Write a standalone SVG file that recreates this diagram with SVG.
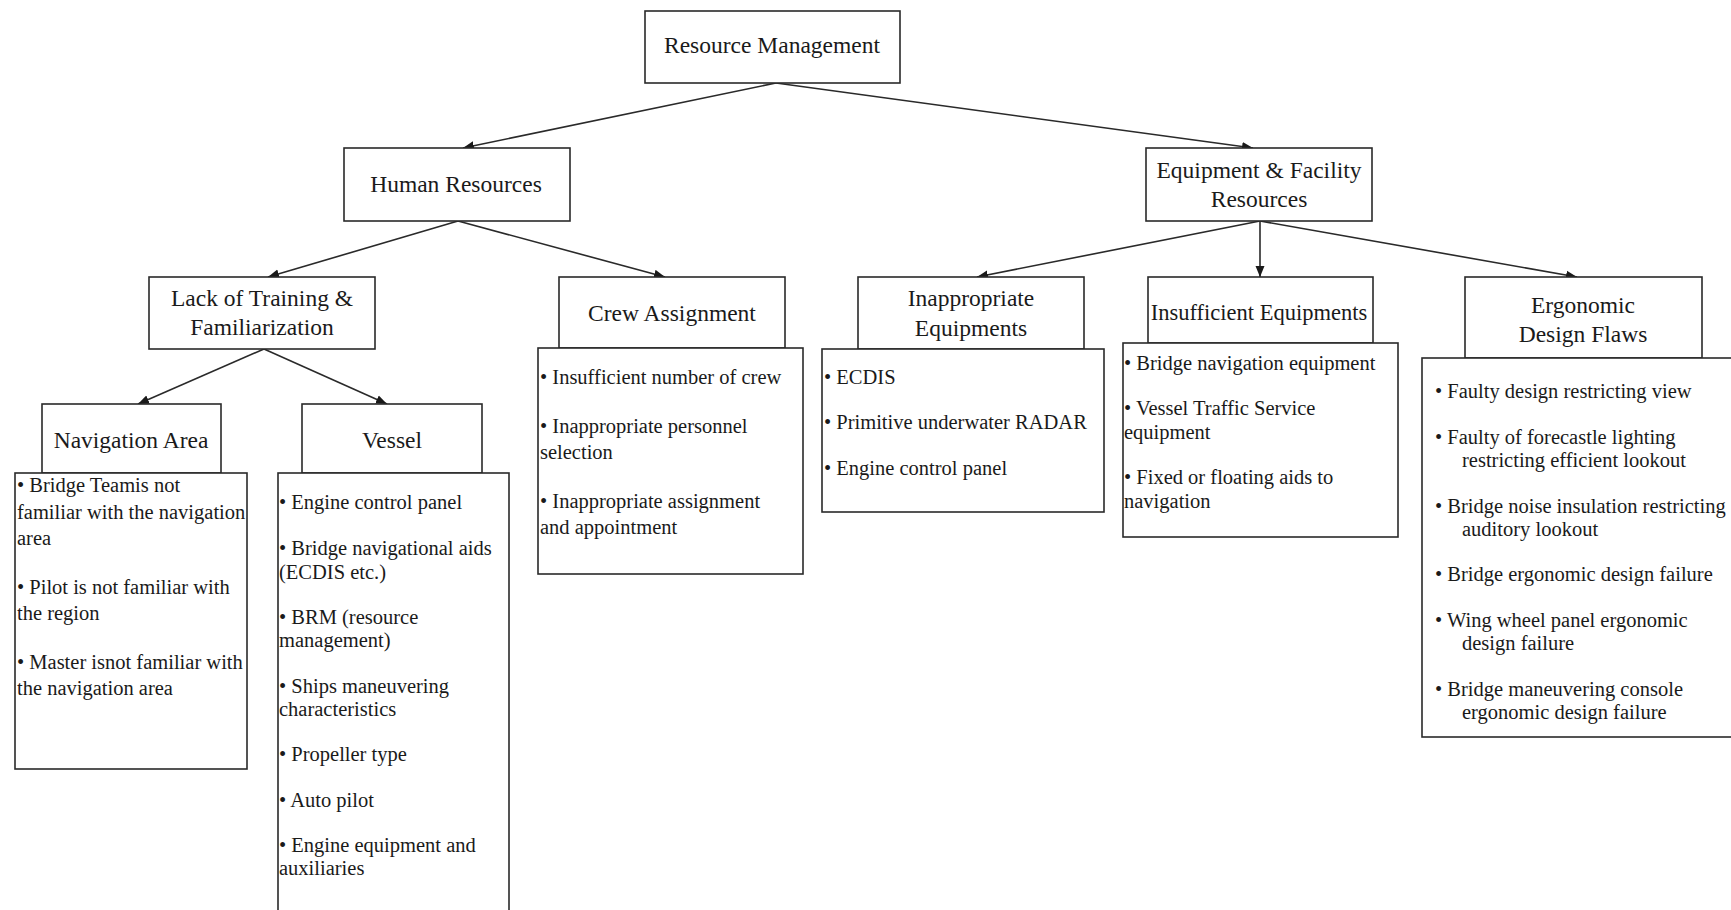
<svg xmlns="http://www.w3.org/2000/svg" width="1731" height="910" viewBox="0 0 1731 910">
<style>
.box{fill:#fff;stroke:#2a2a2a;stroke-width:1.6}
.h{font-family:"Liberation Serif","Times New Roman",serif;font-size:23.5px;fill:#1a1a1a;text-anchor:middle}
.t{font-family:"Liberation Serif","Times New Roman",serif;font-size:20.5px;fill:#1a1a1a}
.c{stroke:#2a2a2a;stroke-width:1.6;fill:none;marker-end:url(#ah)}
</style>
<defs>
<marker id="ah" markerUnits="userSpaceOnUse" markerWidth="12" markerHeight="10" refX="11" refY="5" orient="auto">
<path d="M0,0.5 L11,5 L0,9.5 z" fill="#1a1a1a"/>
</marker>
</defs>
<rect width="1731" height="910" fill="#fff"/>
<g id="connectors">
<line class="c" x1="776" y1="83" x2="463" y2="148"/>
<line class="c" x1="776" y1="83" x2="1253" y2="148"/>
<line class="c" x1="458" y1="221" x2="268" y2="277"/>
<line class="c" x1="458" y1="221" x2="665" y2="277"/>
<line class="c" x1="264" y1="349" x2="138" y2="404"/>
<line class="c" x1="264" y1="349" x2="387" y2="404"/>
<line class="c" x1="1260" y1="221" x2="977" y2="277"/>
<line class="c" x1="1260" y1="221" x2="1260" y2="277"/>
<line class="c" x1="1260" y1="221" x2="1577" y2="277"/>
</g>
<g id="resource-management">
<rect class="box" x="645" y="11" width="255" height="72"/>
<text class="h" x="772" y="53">Resource Management</text>
</g>
<g id="human-resources">
<rect class="box" x="344" y="148" width="226" height="73"/>
<text class="h" x="456" y="192">Human Resources</text>
</g>
<g id="equipment-facility">
<rect class="box" x="1146" y="148" width="226" height="73"/>
<text class="h" x="1259" y="178">Equipment &amp; Facility</text>
<text class="h" x="1259" y="207">Resources</text>
</g>
<g id="lack-of-training">
<rect class="box" x="149" y="277" width="226" height="72"/>
<text class="h" x="262" y="306">Lack of Training &amp;</text>
<text class="h" x="262" y="335">Familiarization</text>
</g>
<g id="crew-assignment">
<rect class="box" x="559" y="277" width="226" height="71"/>
<text class="h" x="672" y="321">Crew Assignment</text>
<rect class="box" x="538" y="348" width="265" height="226"/>
<text class="t" x="540" y="384">• Insufficient number of crew</text>
<text class="t" x="540" y="433">• Inappropriate personnel</text>
<text class="t" x="540" y="459">selection</text>
<text class="t" x="540" y="508">• Inappropriate assignment</text>
<text class="t" x="540" y="534">and appointment</text>
</g>
<g id="inappropriate-equipments">
<rect class="box" x="858" y="277" width="226" height="72"/>
<text class="h" x="971" y="306">Inappropriate</text>
<text class="h" x="971" y="336">Equipments</text>
<rect class="box" x="822" y="349" width="282" height="163"/>
<text class="t" x="824" y="384">• ECDIS</text>
<text class="t" x="824" y="429">• Primitive underwater RADAR</text>
<text class="t" x="824" y="475">• Engine control panel</text>
</g>
<g id="insufficient-equipments">
<rect class="box" x="1148" y="277" width="225" height="66"/>
<text class="h" x="1259" y="320" style="font-size:22.5px">Insufficient Equipments</text>
<rect class="box" x="1123" y="343" width="275" height="194"/>
<text class="t" x="1124" y="370">• Bridge navigation equipment</text>
<text class="t" x="1124" y="415">• Vessel Traffic Service</text>
<text class="t" x="1124" y="439">equipment</text>
<text class="t" x="1124" y="484">• Fixed or floating aids to</text>
<text class="t" x="1124" y="508">navigation</text>
</g>
<g id="ergonomic-design-flaws">
<rect class="box" x="1465" y="277" width="237" height="81"/>
<text class="h" x="1583" y="313">Ergonomic</text>
<text class="h" x="1583" y="342">Design Flaws</text>
<rect class="box" x="1422" y="358" width="330" height="379"/>
<text class="t" x="1435" y="398">• Faulty design restricting view</text>
<text class="t" x="1435" y="444">• Faulty of forecastle lighting</text>
<text class="t" x="1462" y="467">restricting efficient lookout</text>
<text class="t" x="1435" y="513">• Bridge noise insulation restricting</text>
<text class="t" x="1462" y="536">auditory lookout</text>
<text class="t" x="1435" y="581">• Bridge ergonomic design failure</text>
<text class="t" x="1435" y="627">• Wing wheel panel ergonomic</text>
<text class="t" x="1462" y="650">design failure</text>
<text class="t" x="1435" y="696">• Bridge maneuvering console</text>
<text class="t" x="1462" y="719">ergonomic design failure</text>
</g>
<g id="navigation-area">
<rect class="box" x="42" y="404" width="179" height="69"/>
<text class="h" x="131" y="448">Navigation Area</text>
<rect class="box" x="15" y="473" width="232" height="296"/>
<text class="t" x="17" y="492">• Bridge Teamis not</text>
<text class="t" x="17" y="519">familiar with the navigation</text>
<text class="t" x="17" y="545">area</text>
<text class="t" x="17" y="594">• Pilot is not familiar with</text>
<text class="t" x="17" y="620">the region</text>
<text class="t" x="17" y="669">• Master isnot familiar with</text>
<text class="t" x="17" y="695">the navigation area</text>
</g>
<g id="vessel">
<rect class="box" x="302" y="404" width="180" height="69"/>
<text class="h" x="392" y="448">Vessel</text>
<rect class="box" x="278" y="473" width="231" height="460"/>
<text class="t" x="279" y="509">• Engine control panel</text>
<text class="t" x="279" y="555">• Bridge navigational aids</text>
<text class="t" x="279" y="579">(ECDIS etc.)</text>
<text class="t" x="279" y="624">• BRM (resource</text>
<text class="t" x="279" y="647">management)</text>
<text class="t" x="279" y="693">• Ships maneuvering</text>
<text class="t" x="279" y="716">characteristics</text>
<text class="t" x="279" y="761">• Propeller type</text>
<text class="t" x="279" y="807">• Auto pilot</text>
<text class="t" x="279" y="852">• Engine equipment and</text>
<text class="t" x="279" y="875">auxiliaries</text>
</g>
</svg>
